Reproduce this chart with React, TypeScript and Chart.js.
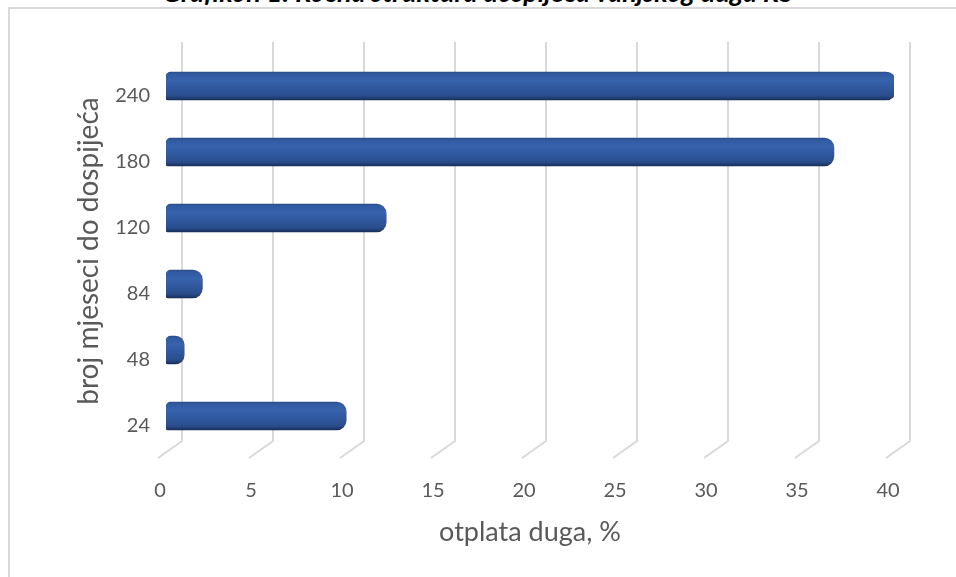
import React, { useEffect, useRef } from 'react';
import { Chart, registerables } from 'chart.js';

Chart.register(...registerables);

const TITLE = 'Grafikon 1: Ročna struktura dospijeća vanjskog duga RS';
const CATEGORIES = ['24', '48', '84', '120', '180', '240'];
const DEBT_SHARE = [9.9, 1.0, 2.0, 12.1, 36.7, 40.1];
const X_MIN = 0;
const X_MAX = 40;
const X_STEP = 5;
const X_TITLE = 'otplata duga, %';
const Y_TITLE = 'broj mjeseci do dospijeća';

const FONT = 'Lato, "Open Sans", sans-serif';
const BAR_T = 28;

const depthGrid = {
  id: 'depthGrid',
  beforeDatasetsDraw(chart: any) {
    const { ctx, chartArea, scales } = chart;
    const xs = scales.x;
    ctx.save();
    ctx.strokeStyle = '#d9d9d9';
    ctx.lineWidth = 2;
    for (let v = X_MIN; v <= X_MAX; v += X_STEP) {
      const px = xs.getPixelForValue(v);
      const bx = px + 16;
      ctx.beginPath();
      ctx.moveTo(bx, chartArea.top - 11);
      ctx.lineTo(bx, chartArea.bottom - 8);
      ctx.lineTo(bx - 24, chartArea.bottom + 9);
      ctx.stroke();
    }
    ctx.restore();
  },
};

export default function App() {
  const ref = useRef<HTMLCanvasElement | null>(null);
  useEffect(() => {
    if (!ref.current) return;
    const chart = new Chart(ref.current, {
      type: 'bar',
      data: {
        labels: CATEGORIES,
        datasets: [
          {
            data: DEBT_SHARE,
            barThickness: BAR_T,
            borderSkipped: false,
            borderRadius: { topLeft: 5, bottomLeft: 2, topRight: 10, bottomRight: 10 },
            borderWidth: 0,
            backgroundColor: (c: any) => {
              const ch = c.chart;
              const ys = ch.scales && ch.scales.y;
              if (!ys || c.dataIndex === undefined || !ch.chartArea) return '#2f5597';
              const cy = ys.getPixelForValue(c.dataIndex);
              const h = BAR_T / 2;
              const g = ch.ctx.createLinearGradient(0, cy - h, 0, cy + h);
              g.addColorStop(0, '#2a4a85');
              g.addColorStop(0.06, '#3059a0');
              g.addColorStop(0.3, '#3763ad');
              g.addColorStop(0.55, '#3059a0');
              g.addColorStop(0.85, '#2a4d8c');
              g.addColorStop(0.95, '#1f3a6c');
              g.addColorStop(1, '#172c54');
              return g;
            },
          } as any,
        ],
      },
      options: {
        indexAxis: 'y',
        animation: false,
        responsive: false,
        maintainAspectRatio: false,
        layout: { padding: { left: 8, top: 53, right: 62, bottom: 0 } },
        plugins: {
          legend: { display: false },
          tooltip: { enabled: false },
          title: { display: false },
        },
        scales: {
          x: {
            type: 'linear',
            min: X_MIN,
            max: X_MAX,
            border: { display: false },
            grid: { display: false, drawTicks: false },
            ticks: {
              stepSize: X_STEP,
              padding: 30,
              labelOffset: -6,
              color: '#595959',
              font: { family: FONT, size: 20 },
            },
            title: {
              display: true,
              text: X_TITLE,
              color: '#595959',
              font: { family: FONT, size: 27 },
              padding: { top: 0, bottom: 29 },
            },
            afterFit: (s: any) => {
              s.height = 128;
            },
          },
          y: {
            type: 'category',
            reverse: true,
            border: { display: false },
            grid: { display: false, drawTicks: false },
            ticks: {
              padding: 16,
              labelOffset: 10,
              color: '#595959',
              font: { family: FONT, size: 20 },
            },
            title: {
              display: true,
              text: Y_TITLE,
              color: '#595959',
              font: { family: FONT, size: 28 },
              padding: { top: 64, bottom: 0 },
            },
            afterFit: (s: any) => {
              s.width = 158;
            },
          },
        },
      },
      plugins: [depthGrid],
    });
    return () => chart.destroy();
  }, []);

  return (
    <div
      style={{
        position: 'fixed',
        left: 0,
        top: 0,
        width: 956,
        height: 577,
        overflow: 'hidden',
        background: '#ffffff',
      }}
    >
      <div
        style={{
          position: 'absolute',
          left: 8,
          top: 7,
          width: 1000,
          height: 700,
          border: '2px solid #d9d9d9',
          boxSizing: 'border-box',
        }}
      />
      <div
        style={{
          position: 'absolute',
          left: 0,
          width: 956,
          top: -23,
          textAlign: 'center',
          fontFamily: FONT,
          fontSize: 27,
          fontWeight: 'bold',
          fontStyle: 'italic',
          color: '#000000',
          lineHeight: '30px',
          whiteSpace: 'nowrap',
        }}
      >
        {TITLE}
      </div>
      <canvas
        ref={ref}
        width={956}
        height={577}
        style={{ position: 'absolute', left: 0, top: 0, width: 956, height: 577 }}
      />
    </div>
  );
}
